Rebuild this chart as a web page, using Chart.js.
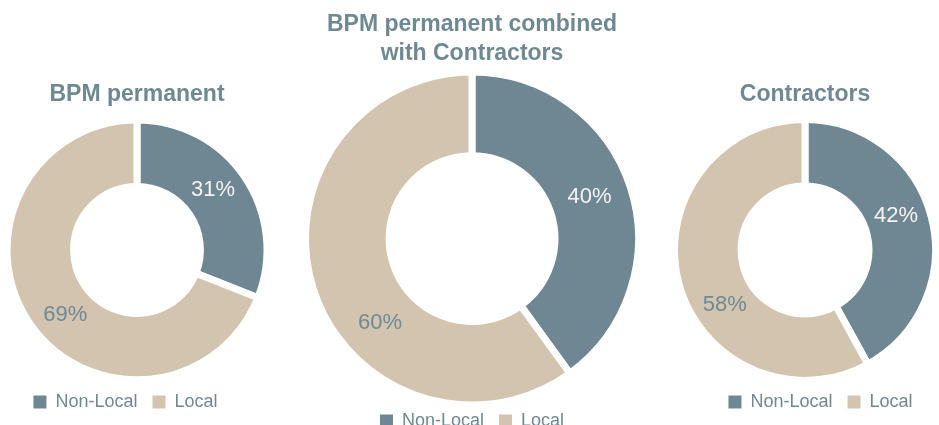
<!DOCTYPE html>
<html>
<head>
<meta charset="utf-8">
<script src="https://cdn.jsdelivr.net/npm/chart.js@4.4.0/dist/chart.umd.min.js"></script>
<style>
body { margin: 0; background: #fff; overflow: hidden; }
#wrap { position: relative; width: 939px; height: 425px; overflow: hidden; }
canvas { position: absolute; }
</style>
</head>
<body>
<div id="wrap">
  <canvas id="c1" width="274" height="365" style="left:0px;top:60px"></canvas>
  <canvas id="c2" width="344" height="440" style="left:300px;top:0px"></canvas>
  <canvas id="c3" width="270" height="365" style="left:670px;top:60px"></canvas>
</div>
<script>
// data
const categories = ['Non-Local', 'Local'];
const bpmPermanent = [31, 69];
const combined = [40, 60];
const contractors = [42, 58];

const slate = '#6E8792';
const tan = '#D3C4B0';
const textSlate = '#6F8993';
const font = "'Liberation Sans', Arial, sans-serif";

// percent labels drawn on the ring
const pctLabels = {
    id: 'pctLabels',
    afterDatasetsDraw(chart, args, opts) {
        const ctx = chart.ctx;
        const meta = chart.getDatasetMeta(0);
        const values = chart.data.datasets[0].data;
        ctx.save();
        ctx.font = '22px ' + font;
        ctx.textAlign = 'center';
        ctx.textBaseline = 'middle';
        meta.data.forEach((arc, i) => {
            const shift = (opts.shift ? opts.shift[i] : 0) * Math.PI / 180;
            const a = (arc.startAngle + arc.endAngle) / 2 + shift;
            const r = (arc.innerRadius + arc.outerRadius) / 2;
            ctx.fillStyle = i == 0 ? '#F4F4F4' : textSlate;
            ctx.fillText(values[i] + '%', arc.x + Math.cos(a) * r, arc.y + Math.sin(a) * r);
        });
        ctx.restore();
    }
};

// move the legend sideways without moving the doughnut
const legendShift = {
    id: 'legendShift',
    afterLayout(chart, args, opts) {
        const dx = opts.dx || 0;
        chart.legend.left += dx;
        chart.legend.right += dx;
    }
};

// legend boxes without the white slice border
function legendItems(chart) {
    const items = Chart.overrides.doughnut.plugins.legend.labels.generateLabels(chart);
    return items.map(it => Object.assign(it, { lineWidth: 0, strokeStyle: it.fillStyle }));
}

function makeDonut(id, title, values, o) {
    return new Chart(document.getElementById(id), {
        type: 'doughnut',
        data: {
            labels: categories,
            datasets: [{
                data: values,
                backgroundColor: [slate, tan],
                borderColor: '#ffffff',
                borderWidth: 7
            }]
        },
        plugins: [pctLabels, legendShift],
        options: {
            responsive: false,
            animation: false,
            events: [],
            radius: o.radius,
            cutout: o.cutout,
            layout: { padding: { bottom: o.padB } },
            plugins: {
                title: {
                    display: true,
                    text: title,
                    color: textSlate,
                    font: { family: font, size: 23, weight: 'bold', lineHeight: 1.25 },
                    padding: { top: o.titleTop, bottom: o.titleBottom }
                },
                legend: {
                    position: 'bottom',
                    labels: {
                        color: textSlate,
                        boxWidth: 13,
                        boxHeight: 13,
                        padding: 15,
                        font: { family: font, size: 18 },
                        generateLabels: legendItems
                    }
                },
                tooltip: { enabled: false },
                pctLabels: { shift: o.shift },
                legendShift: { dx: o.legendDx }
            }
        }
    });
}

makeDonut('c1', 'BPM permanent', bpmPermanent,
    { radius: 130, cutout: '48.8%', titleTop: 20, titleBottom: 13, padB: 4, legendDx: -11.5, shift: [-4, -8] });
makeDonut('c2', ['BPM permanent combined', 'with Contractors'], combined,
    { radius: 166.5, cutout: '49.8%', titleTop: 10.6, titleBottom: 12, padB: 0, legendDx: 0, shift: [-1.5, -24.5] });
makeDonut('c3', 'Contractors', contractors,
    { radius: 130.5, cutout: '49%', titleTop: 20, titleBottom: 13, padB: 4, legendDx: 15.5, shift: [-6, -20] });
</script>
</body>
</html>
